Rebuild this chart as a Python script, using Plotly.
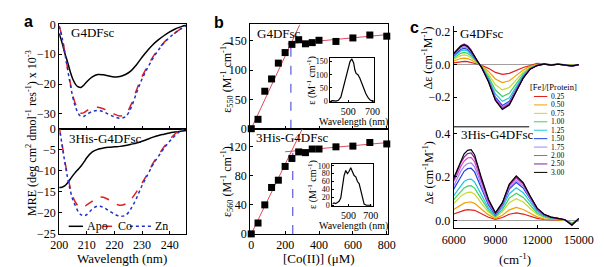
import plotly.graph_objects as go

W, H = 604, 267
SERIF = "Liberation Serif"
SANS = "Liberation Sans"


def px(x):
    return x / W


def py(y):
    return 1 - y / H


# ---------------- Panel a: CD spectra ----------------
a_wl = [200, 201, 202, 203, 204, 205, 206, 207, 208, 209, 210, 212, 214, 216, 218,
        220, 222, 224, 226, 228, 230, 232, 234, 236, 238, 240, 242, 244, 246]
a_top_apo = [-3.0, -6.0, -9.5, -12.5, -15.8, -18.5, -20.2, -21.0, -21.1, -20.3, -19.2, -17.6, -16.8, -16.9, -17.3,
             -17.6, -17.5, -16.8, -15.6, -13.5, -11.0, -8.7, -6.7, -5.1, -3.7, -2.5, -1.5, -0.8, -0.2]
a_top_co = [-0.5, -4.0, -9.0, -14.5, -19.5, -24.0, -27.0, -29.0, -29.8, -29.6, -28.9, -28.0, -27.8, -28.3, -29.2,
            -30.1, -30.7, -30.2, -27.0, -22.0, -17.5, -14.0, -10.8, -8.2, -6.0, -4.2, -2.8, -1.5, -0.4]
a_top_zn = [-0.5, -4.2, -9.3, -14.8, -20.0, -24.7, -27.9, -30.0, -30.9, -30.8, -30.2, -29.2, -28.9, -29.3, -30.2,
            -31.0, -31.5, -31.0, -28.0, -23.0, -18.3, -14.6, -11.3, -8.5, -6.2, -4.3, -2.8, -1.5, -0.4]
a_bot_apo = [-14.0, -13.9, -13.6, -12.9, -12.0, -11.1, -10.3, -9.6, -8.8, -7.9, -6.9, -5.5, -4.9, -4.6, -4.4,
             -4.3, -4.2, -4.0, -3.7, -3.4, -3.0, -2.5, -2.0, -1.6, -1.3, -1.0, -0.8, -0.6, -0.4]
a_bot_co = [0.5, -3.5, -7.5, -11.0, -14.0, -16.2, -17.6, -18.4, -18.7, -18.6, -18.1, -17.2, -16.3, -16.3, -16.9,
            -17.7, -18.2, -17.9, -16.8, -15.0, -12.9, -10.7, -8.2, -6.2, -4.3, -2.6, -1.2, -0.2, 0.5]
a_bot_zn = [0.5, -3.6, -7.8, -11.5, -14.6, -17.0, -18.5, -19.8, -20.5, -20.7, -20.4, -19.1, -18.4, -18.7, -19.5,
            -20.3, -20.8, -20.6, -19.0, -16.5, -13.5, -11.0, -8.5, -6.5, -4.6, -3.0, -1.6, -0.5, 0.3]
a_names = ["Apo", "Co", "Zn"]
a_colors = ["#000000", "#e02020", "#2030c8"]
a_dashes = ["solid", "dash", "dot"]

# ---------------- Panel b: Co(II) titrations ----------------
b_conc = [0, 40, 80, 120, 160, 200, 240, 280, 320, 360, 400, 500, 600, 700, 800]
b_top_eps = [0, 16, 64, 85, 112, 130, 144, 152, 145, 147, 151, 149, 155, 160, 158]
b_bot_eps = [0, 15, 40, 64, 74, 93, 104, 113, 112, 117, 117, 120, 121, 126, 124]
b_top_steep_x = [0, 287]
b_top_steep_y = [0, 178]
b_top_flat_x = [215, 800]
b_top_flat_y = [144.8, 160.6]
b_top_break_x = [234, 234]
b_top_break_y = [0, 145]
b_bot_steep_x = [0, 302]
b_bot_steep_y = [0, 145]
b_bot_flat_x = [200, 800]
b_bot_flat_y = [113.2, 125.8]
b_bot_break_x = [245, 245]
b_bot_break_y = [0, 114]

# insets: absorption spectra
b_in_top_wl = [355, 375, 400, 420, 440, 460, 480, 500, 515, 530, 545, 555, 565, 580, 595, 610, 625, 645, 665, 680, 700, 715]
b_in_top_eps = [0, 2, 0, 3, 15, 50, 90, 125, 150, 160, 145, 118, 105, 100, 88, 70, 50, 28, 12, 4, 0, 0]
b_in_bot_wl = [355, 370, 385, 400, 415, 430, 445, 460, 475, 490, 505, 520, 535, 550, 565, 580, 595, 610, 625, 640, 660, 680, 705]
b_in_bot_eps = [3, 6, 4, 8, 10, 18, 45, 75, 88, 80, 86, 95, 85, 75, 72, 60, 55, 38, 20, 3, 0, 0, 0]

# ---------------- Panel c: MCD spectra ----------------
c_wn = [6000, 6250, 6500, 6750, 7000, 7250, 7500, 7750, 8000, 8500, 9000, 9500, 10000, 10500,
        11000, 11500, 12000, 12500, 13000, 13500, 14000, 14500, 15000]
c_levels = ["0.25", "0.50", "0.75", "1.00", "1.25", "1.50", "1.75", "2.00", "2.50", "3.00"]
c_colors = ["#e02020", "#f0a000", "#c8d830", "#40d060", "#20c8d8", "#2040e0", "#a080ff", "#e040c0", "#8020a0", "#000000"]
c_top = [
    [0.011, 0.015, 0.018, 0.02, 0.018, 0.014, 0.008, 0.002, -0.004, -0.023, -0.048, -0.06, -0.054, -0.036, -0.018, -0.006, 0.008, 0.005, 0.0, 0.003, 0.0, -0.004, 0.0],
    [0.022, 0.03, 0.037, 0.04, 0.037, 0.028, 0.016, 0.004, -0.007, -0.042, -0.088, -0.11, -0.099, -0.066, -0.033, -0.011, 0.002, 0.004, -0.002, 0.003, 0.0, -0.003, 0.0],
    [0.033, 0.045, 0.055, 0.06, 0.055, 0.042, 0.024, 0.006, -0.009, -0.059, -0.124, -0.155, -0.14, -0.093, -0.047, -0.016, -0.003, 0.003, -0.002, 0.002, 0.0, -0.004, 0.0],
    [0.041, 0.056, 0.069, 0.075, 0.069, 0.053, 0.03, 0.008, -0.012, -0.074, -0.156, -0.195, -0.176, -0.117, -0.059, -0.02, -0.004, 0.002, -0.003, 0.002, -0.002, -0.005, 0.0],
    [0.05, 0.068, 0.083, 0.09, 0.083, 0.063, 0.036, 0.009, -0.014, -0.086, -0.18, -0.225, -0.203, -0.135, -0.068, -0.023, -0.005, 0.002, -0.002, 0.003, -0.002, -0.008, 0.0],
    [0.055, 0.075, 0.092, 0.1, 0.092, 0.07, 0.04, 0.01, -0.015, -0.095, -0.2, -0.25, -0.225, -0.15, -0.075, -0.025, -0.005, 0.003, -0.003, 0.002, -0.003, -0.01, -0.002],
    [0.06, 0.083, 0.101, 0.11, 0.101, 0.077, 0.044, 0.011, -0.016, -0.099, -0.208, -0.26, -0.234, -0.156, -0.078, -0.026, -0.005, 0.003, -0.003, 0.002, -0.002, -0.008, 0.0],
    [0.069, 0.094, 0.115, 0.125, 0.115, 0.088, 0.05, 0.013, -0.016, -0.101, -0.212, -0.265, -0.239, -0.159, -0.08, -0.027, -0.006, 0.004, -0.003, 0.003, -0.004, -0.01, 0.0],
    [0.069, 0.094, 0.115, 0.125, 0.115, 0.088, 0.05, 0.013, -0.016, -0.103, -0.216, -0.27, -0.243, -0.162, -0.081, -0.027, -0.006, 0.003, -0.004, 0.002, -0.003, -0.01, 0.0],
    [0.066, 0.09, 0.11, 0.12, 0.11, 0.084, 0.048, 0.012, -0.017, -0.105, -0.22, -0.275, -0.248, -0.165, -0.083, -0.028, -0.006, 0.004, -0.003, 0.003, -0.003, -0.008, 0.0],
]
c_bot = [
    [0.03, 0.036, 0.043, 0.047, 0.05, 0.05, 0.047, 0.039, 0.03, 0.015, 0.006, 0.014, 0.029, 0.035, 0.03, 0.019, 0.01, 0.005, 0.003, 0.002, 0.001, -0.01, 0.0],
    [0.051, 0.061, 0.072, 0.08, 0.084, 0.085, 0.079, 0.066, 0.051, 0.026, 0.009, 0.024, 0.049, 0.06, 0.051, 0.033, 0.017, 0.008, 0.005, 0.003, 0.001, -0.012, 0.002],
    [0.078, 0.094, 0.111, 0.122, 0.129, 0.13, 0.121, 0.101, 0.078, 0.039, 0.014, 0.04, 0.082, 0.1, 0.085, 0.055, 0.028, 0.014, 0.008, 0.005, 0.002, -0.014, 0.003],
    [0.096, 0.115, 0.136, 0.15, 0.158, 0.16, 0.149, 0.125, 0.096, 0.048, 0.018, 0.05, 0.103, 0.125, 0.106, 0.069, 0.035, 0.018, 0.01, 0.006, 0.003, -0.015, 0.004],
    [0.114, 0.137, 0.162, 0.179, 0.188, 0.19, 0.177, 0.148, 0.114, 0.057, 0.021, 0.06, 0.123, 0.15, 0.128, 0.083, 0.042, 0.021, 0.012, 0.008, 0.003, -0.016, 0.005],
    [0.144, 0.173, 0.204, 0.226, 0.238, 0.24, 0.223, 0.187, 0.144, 0.072, 0.026, 0.07, 0.144, 0.175, 0.149, 0.096, 0.049, 0.025, 0.014, 0.009, 0.004, -0.018, 0.006],
    [0.159, 0.191, 0.225, 0.249, 0.262, 0.265, 0.246, 0.207, 0.159, 0.08, 0.029, 0.074, 0.152, 0.185, 0.157, 0.102, 0.052, 0.026, 0.015, 0.009, 0.004, -0.018, 0.007],
    [0.18, 0.209, 0.247, 0.273, 0.287, 0.29, 0.27, 0.226, 0.174, 0.087, 0.032, 0.078, 0.16, 0.195, 0.166, 0.107, 0.055, 0.027, 0.016, 0.01, 0.004, -0.02, 0.008],
    [0.186, 0.223, 0.264, 0.291, 0.307, 0.31, 0.288, 0.242, 0.186, 0.093, 0.034, 0.08, 0.164, 0.2, 0.17, 0.11, 0.056, 0.028, 0.016, 0.01, 0.004, -0.022, 0.01],
    [0.195, 0.234, 0.276, 0.306, 0.322, 0.325, 0.302, 0.254, 0.195, 0.098, 0.036, 0.082, 0.168, 0.205, 0.174, 0.113, 0.057, 0.029, 0.016, 0.01, 0.004, -0.02, 0.01],
]

fig = go.Figure()

# panel a traces
for ys, xa, ya in [((a_top_apo, a_top_co, a_top_zn), "x", "y"), ((a_bot_apo, a_bot_co, a_bot_zn), "x2", "y2")]:
    for vals, name, col, dash in zip(ys, a_names, a_colors, a_dashes):
        fig.add_trace(go.Scatter(x=a_wl, y=vals, mode="lines", name=name, xaxis=xa, yaxis=ya,
                                 line=dict(color=col, width=1.5, dash=dash, shape="spline")))

# panel b traces
RED = "#e04a5a"
for (sx, sy, fx, fy, bx, by, pts, xa, ya) in [
        (b_top_steep_x, b_top_steep_y, b_top_flat_x, b_top_flat_y, b_top_break_x, b_top_break_y, b_top_eps, "x3", "y3"),
        (b_bot_steep_x, b_bot_steep_y, b_bot_flat_x, b_bot_flat_y, b_bot_break_x, b_bot_break_y, b_bot_eps, "x4", "y4")]:
    fig.add_trace(go.Scatter(x=sx, y=sy, mode="lines", xaxis=xa, yaxis=ya, line=dict(color=RED, width=1)))
    fig.add_trace(go.Scatter(x=fx, y=fy, mode="lines", xaxis=xa, yaxis=ya, line=dict(color=RED, width=1)))
    fig.add_trace(go.Scatter(x=bx, y=by, mode="lines", xaxis=xa, yaxis=ya,
                             line=dict(color="#5a5adc", width=1.2, dash="dash")))
    fig.add_trace(go.Scatter(x=b_conc, y=pts, mode="markers", xaxis=xa, yaxis=ya, cliponaxis=False,
                             marker=dict(symbol="square", size=7, color="black")))

fig.add_trace(go.Scatter(x=b_in_top_wl, y=b_in_top_eps, mode="lines", xaxis="x5", yaxis="y5",
                         line=dict(color="black", width=1.2)))
fig.add_trace(go.Scatter(x=b_in_bot_wl, y=b_in_bot_eps, mode="lines", xaxis="x6", yaxis="y6",
                         line=dict(color="black", width=1.2)))

# panel c traces
for vals, col in zip(c_top, c_colors):
    fig.add_trace(go.Scatter(x=c_wn, y=vals, mode="lines", xaxis="x7", yaxis="y7",
                             line=dict(color=col, width=1.2)))
for vals, col in zip(c_bot, c_colors):
    fig.add_trace(go.Scatter(x=c_wn, y=vals, mode="lines", xaxis="x8", yaxis="y8",
                             line=dict(color=col, width=1.2)))


def axis(domain, rng, **kw):
    d = dict(domain=domain, range=rng, showline=True, linecolor="black", linewidth=1,
             mirror=True, ticks="inside", ticklen=3, tickwidth=1, tickcolor="black",
             showgrid=False, zeroline=False,
             tickfont=dict(family=SERIF, size=12, color="black"))
    d.update(kw)
    return d


ax_a = [px(41), px(174)]
ax_b = [px(241), px(385)]
ax_c = [px(454), px(585)]
top_ab = [py(120), py(10)]
bot_ab = [py(231), py(120)]
top_c = [py(118), py(12)]
bot_c = [py(225), py(118)]
INSET_TICK = dict(family=SERIF, size=10, color="black")
INSET_TICK_S = dict(family=SERIF, size=8, color="black")

fig.update_layout(
    width=W, height=H, margin=dict(l=0, r=0, t=0, b=0),
    paper_bgcolor="white", plot_bgcolor="white", showlegend=False,
    xaxis=axis(ax_a, [200, 246], anchor="y", showticklabels=False, tickvals=[200, 210, 220, 230, 240]),
    yaxis=axis(top_ab, [-35, 0], anchor="x", tickvals=[0, -10, -20, -30]),
    xaxis2=axis(ax_a, [200, 246], anchor="y2", tickvals=[200, 210, 220, 230, 240]),
    yaxis2=axis(bot_ab, [-25, 0], anchor="x2", tickvals=[0, -5, -10, -15, -20, -25]),
    xaxis3=axis(ax_b, [-6, 806], anchor="y3", showticklabels=False, tickvals=[0, 200, 400, 600, 800]),
    yaxis3=axis(top_ab, [0, 178], anchor="x3", tickvals=[0, 50, 100, 150]),
    xaxis4=axis(ax_b, [-6, 806], anchor="y4", tickvals=[0, 200, 400, 600, 800]),
    yaxis4=axis(bot_ab, [0, 145], anchor="x4", tickvals=[0, 40, 80, 120]),
    xaxis5=axis([px(325), px(371)], [355, 715], anchor="y5", tickvals=[500, 700],
                tickfont=INSET_TICK, ticklen=2),
    yaxis5=axis([py(92), py(45)], [-4, 165], anchor="x5", tickvals=[0, 50, 100, 150],
                tickfont=INSET_TICK_S, ticklen=2),
    xaxis6=axis([px(327), px(369)], [355, 715], anchor="y6", tickvals=[500, 700],
                tickfont=INSET_TICK, ticklen=2),
    yaxis6=axis([py(202), py(157)], [-3, 105], anchor="x6", tickvals=[0, 20, 40, 60, 80, 100],
                tickfont=INSET_TICK_S, ticklen=2),
    xaxis7=axis(ax_c, [6000, 15000], anchor="y7", showticklabels=False, showline=False, ticks=""),
    yaxis7=axis(top_c, [-0.381, 0.234], anchor="x7", mirror=False, tickvals=[-0.2, 0.0, 0.2],
                tickformat=".1f", zeroline=True, zerolinecolor="#a0a0a0", zerolinewidth=1),
    xaxis8=axis(ax_c, [6000, 15000], anchor="y8", mirror=False, tickvals=[6000, 9000, 12000, 15000],
                tickformat="d"),
    yaxis8=axis(bot_c, [-0.035, 0.43], anchor="x8", mirror=False, tickvals=[0.0, 0.2, 0.4],
                tickformat=".1f", zeroline=True, zerolinecolor="#a0a0a0", zerolinewidth=1),
)

ann = []


def text(x, y, s, size=12, family=SERIF, angle=0, xanchor="center", bold=False, pad=1):
    ann.append(dict(x=px(x), y=py(y), xref="paper", yref="paper", text=("<b>%s</b>" % s) if bold else s,
                    showarrow=False, textangle=angle, xanchor=xanchor, yanchor="middle", borderpad=pad,
                    font=dict(family=family, size=size, color="black")))


# panel letters
text(9, 7, "a", size=16, family=SANS, bold=True)
text(208, 8, "b", size=16, family=SANS, bold=True)
text(413, 13, "c", size=16, family=SANS, bold=True)

# panel a texts
text(51, 18, "G4DFsc", size=13, xanchor="left")
text(49, 130, "3His-G4DFsc", size=13, xanchor="left")
text(12, 124, "MRE (deg cm<sup>2</sup> dmol<sup>-1</sup> res<sup>-1</sup>) x 10<sup>-3</sup>", size=12, angle=-90)
text(107, 257, "Wavelength (nm)", size=13)

# panel a legend
shapes = []
leg_y = 223
for (x0, x1, tx), name, col, dash in zip([(51, 66, 68), (87, 99, 101), (115, 137, 139)], a_names, a_colors, a_dashes):
    shapes.append(dict(type="line", xref="paper", yref="paper", x0=px(x0), x1=px(x1), y0=py(leg_y), y1=py(leg_y),
                       line=dict(color=col, width=1.5, dash=dash)))
    text(tx, leg_y, name, size=12, xanchor="left")

# panel b texts
text(246, 19, "G4DFsc", size=13, xanchor="left")
text(245, 129, "3His-G4DFsc", size=13, xanchor="left")
text(217, 66, "ε<sub>550</sub> (M<sup>-1</sup> cm<sup>-1</sup>)", size=12, angle=-90)
text(217, 176, "ε<sub>560</sub> (M<sup>-1</sup> cm<sup>-1</sup>)", size=12, angle=-90)
text(313, 257, "[Co(II)] (μM)", size=13)
text(305, 69, "ε (M<sup>-1</sup> cm<sup>-1</sup>)", size=10, angle=-90)
text(306, 179, "ε (M<sup>-1</sup> cm<sup>-1</sup>)", size=10, angle=-90)
text(349, 113, "Wavelength (nm)", size=10)
text(349, 223, "Wavelength (nm)", size=10)

# panel c texts
text(459, 19, "G4DFsc", size=13, xanchor="left")
text(460, 126, "3His-G4DFsc", size=13, xanchor="left")
text(427, 45, "Δε (cm<sup>-1</sup>M<sup>-1</sup>)", size=12, angle=-90)
text(427, 166, "Δε (cm<sup>-1</sup>M<sup>-1</sup>)", size=12, angle=-90)
text(518, 258, "(cm<sup>-1</sup>)", size=13)

# panel c divider and legend
shapes.append(dict(type="line", xref="paper", yref="paper", x0=px(454), x1=px(533), y0=py(118), y1=py(118),
                   line=dict(color="black", width=1)))
text(558, 76, "[Fe]/[Protein]", size=8.5, pad=0)
for i, (lab, col) in enumerate(zip(c_levels, c_colors)):
    yy = 86 + 8.9 * i
    shapes.append(dict(type="line", xref="paper", yref="paper", x0=px(538), x1=px(552), y0=py(yy), y1=py(yy),
                       line=dict(color=col, width=1)))
    text(555, yy, lab, size=7.5, xanchor="left", pad=0)

fig.update_layout(annotations=ann, shapes=shapes)
fig.write_html("out.html")
